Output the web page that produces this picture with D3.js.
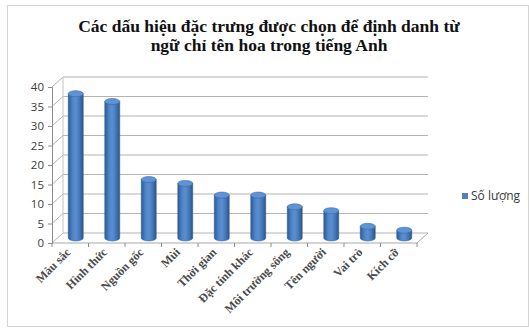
<!DOCTYPE html>
<html>
<head>
<meta charset="utf-8">
<script src="https://cdn.jsdelivr.net/npm/d3@7"></script>
<style>
  body { margin: 0; background: #fff; }
  svg { display: block; }
</style>
</head>
<body>
<script>
// chart data
var categories = ["Màu sắc", "Hình thức", "Nguồn gốc", "Mùi", "Thời gian",
                  "Đặc tính khác", "Môi trường sống", "Tên người", "Vai trò", "Kích cỡ"];
var values = [37, 35, 15, 14, 11, 11, 8, 7, 3, 2];
var yTicks = [0, 5, 10, 15, 20, 25, 30, 35, 40];
var titleLines = ["Các dấu hiệu đặc trưng được chọn để định danh từ",
                  "ngữ chỉ tên hoa trong tiếng Anh"];
var seriesName = "Số lượng";

var width = 529,
    height = 329,
    depthX = 11,   // 3d depth offset
    depthY = -10,
    barR = 7.5,
    ellR = 3;

var svg = d3.select('body').append('svg')
    .attr('width', width)
    .attr('height', height);

// outer frame
svg.append('rect')
    .attr('x', 7.5).attr('y', 5.5)
    .attr('width', 521).attr('height', 321)
    .attr('fill', '#fff')
    .attr('stroke', '#d4d4d4');

var x = d3.scaleBand().domain(categories).range([52, 417]);
var y = d3.scaleLinear().domain([0, 40]).range([243, 87]);

// gradient for cylinders
var defs = svg.append('defs');
var grad = defs.append('linearGradient').attr('id', 'cyl')
    .attr('x1', 0).attr('x2', 1).attr('y1', 0).attr('y2', 0);
[[0, '#2b5b94'], [0.3, '#4f85c9'], [0.5, '#5a8fd2'], [0.75, '#4678b8'], [1, '#2a5587']]
  .forEach(function(s){ grad.append('stop').attr('offset', s[0]).attr('stop-color', s[1]); });

var grid = svg.append('g');
var x0 = x.range()[0], x1 = x.range()[1];

// back wall + side wall gridlines
yTicks.forEach(function(t){
  grid.append('line')
      .attr('x1', x0 + depthX).attr('x2', x1 + depthX)
      .attr('y1', y(t) + depthY).attr('y2', y(t) + depthY)
      .attr('stroke', '#b4b4b4').attr('stroke-width', 1.2);
  grid.append('line')
      .attr('x1', x0).attr('x2', x0 + depthX)
      .attr('y1', y(t)).attr('y2', y(t) + depthY)
      .attr('stroke', '#b4b4b4').attr('stroke-width', 1);
});
// back left edge
grid.append('line')
    .attr('x1', x0 + depthX).attr('x2', x0 + depthX)
    .attr('y1', y(40) + depthY).attr('y2', y(0) + depthY)
    .attr('stroke', '#c4c4c4');
// floor
grid.append('path')
    .attr('d', 'M' + x0 + ',' + y(0) + 'L' + x1 + ',' + y(0) +
               'L' + (x1 + depthX) + ',' + (y(0) + depthY))
    .attr('fill', 'none').attr('stroke', '#a8a8a8');

// y axis (front)
var yAxis = d3.axisLeft(y).tickValues(yTicks).tickSize(4).tickPadding(4);
var gy = svg.append('g').attr('transform', 'translate(' + x0 + ',0)').call(yAxis);
gy.select('.domain').attr('stroke', '#8c8c8c');
gy.selectAll('.tick line').attr('stroke', '#8c8c8c');
gy.selectAll('text')
    .attr('font-family', 'Open Sans, sans-serif')
    .attr('font-size', 11.5)
    .attr('fill', '#3a3a3a');

// x axis ticks at category boundaries
var bounds = categories.map(function(c){ return x(c); }).concat([x1]);
svg.append('g').selectAll('line').data(bounds).enter().append('line')
    .attr('x1', function(d){ return d; }).attr('x2', function(d){ return d; })
    .attr('y1', y(0)).attr('y2', y(0) + 4)
    .attr('stroke', '#8c8c8c');

// cylinders
var bars = svg.append('g').selectAll('g').data(values).enter().append('g');
var cx = function(d, i){ return x(categories[i]) + x.bandwidth() / 2 + depthX / 2; };
var bot = y(0) + depthY / 2;

bars.append('path')
    .attr('d', function(d, i){
      var c = cx(d, i), top = y(d) + depthY / 2;
      return 'M' + (c - barR) + ',' + top + 'L' + (c - barR) + ',' + bot +
             'A' + barR + ',' + ellR + ' 0 0 0 ' + (c + barR) + ',' + bot +
             'L' + (c + barR) + ',' + top + 'Z';
    })
    .attr('fill', 'url(#cyl)')
    .attr('stroke', '#2d5a8c').attr('stroke-width', 0.5);

bars.append('ellipse')
    .attr('cx', cx)
    .attr('cy', function(d){ return y(d) + depthY / 2; })
    .attr('rx', barR).attr('ry', ellR)
    .attr('fill', '#5f93d6')
    .attr('stroke', '#3a6aa6').attr('stroke-width', 0.6);

// category labels
svg.append('g').selectAll('text').data(categories).enter().append('text')
    .attr('transform', function(d){
      return 'translate(' + (x(d) + x.bandwidth() / 2 + 1) + ',' + (y(0) + 10) + ') rotate(-45)';
    })
    .attr('text-anchor', 'end')
    .attr('font-family', 'Liberation Serif, serif')
    .attr('font-weight', 'bold')
    .attr('font-size', 12)
    .attr('fill', '#4a4a4a')
    .text(function(d){ return d; });

// title
svg.append('g').selectAll('text').data(titleLines).enter().append('text')
    .attr('x', 269)
    .attr('y', function(d, i){ return 32 + i * 19; })
    .attr('text-anchor', 'middle')
    .attr('font-family', 'Liberation Serif, serif')
    .attr('font-weight', 'bold')
    .attr('font-size', 17.5)
    .attr('fill', '#111')
    .text(function(d){ return d; });

// legend
svg.append('rect')
    .attr('x', 462).attr('y', 193)
    .attr('width', 6).attr('height', 6)
    .attr('fill', '#4f81bd');
svg.append('text')
    .attr('x', 471).attr('y', 200)
    .attr('font-family', 'Open Sans, sans-serif')
    .attr('font-size', 12)
    .attr('fill', '#3a3a3a')
    .text(seriesName);
</script>
</body>
</html>
